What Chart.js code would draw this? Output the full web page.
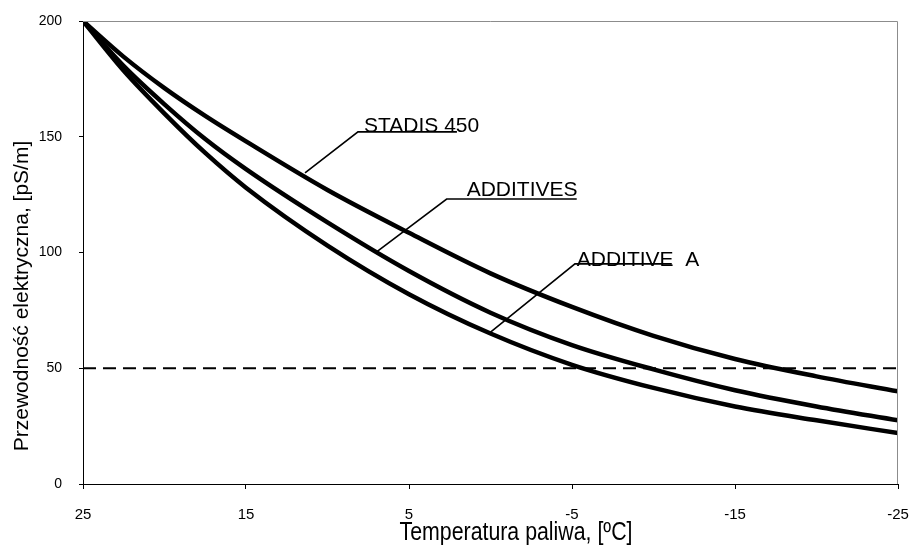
<!DOCTYPE html>
<html>
<head>
<meta charset="utf-8">
<script src="https://cdn.jsdelivr.net/npm/chart.js@4.4.1/dist/chart.umd.min.js"></script>
<style>
  html, body { margin:0; padding:0; background:#fff; }
  #wrap { width:910px; height:546px; }
</style>
</head>
<body>
<div id="wrap"><canvas id="chart" width="910" height="546"></canvas></div>
<script>
// --- Data ---
const temps     = [25, 22.5, 20, 17.5, 15, 10, 5, 0, -5, -10, -15, -20, -25];
const stadis450 = [200, 184.5, 171, 159, 148, 127, 108.5, 91, 76.5, 64, 54, 46.5, 40];
const additives = [200, 180.5, 164, 149, 136, 113, 92, 74, 60, 49.5, 40.5, 33.5, 27.5];
const additiveA = [200, 178.5, 160, 143, 128, 103, 82, 65, 51.5, 41.5, 33.5, 27.5, 22];
const limitX    = [25, -25];
const limitY    = [50, 50];
const xTicks    = [25, 15, 5, -5, -15, -25];
const yTicks    = [0, 50, 100, 150, 200];

// --- Curve labels (data units): text, leader tip, underline start/end ---
const labelText  = ['STADIS 450', 'ADDITIVES', 'ADDITIVE  A'];
const labelX     = [7.76, 1.46, -5.29];
const labelY     = [152.2, 124.5, 94.2];
const lineStartX = [8.13, 2.69, -5.18];
const lineStartY = [152.1, 123.1, 95.1];
const lineEndX   = [2.06, -5.29, -11.12];
const tipX       = [11.38, 7.09, 0.13];
const tipY       = [134.4, 99.7, 64.8];

const xTitle = 'Temperatura paliwa, [ºC]';
const yTitle = 'Przewodność elektryczna, [pS/m]';

// --- helpers ---
function curve(label, vals) {
  return {
    label: label,
    data: temps.map((t, i) => ({ x: t, y: vals[i] })),
    borderColor: '#000',
    borderWidth: 4.5,
    borderCapStyle: 'round',
    borderJoinStyle: 'round',
    pointRadius: 0,
    cubicInterpolationMode: 'monotone',
    fill: false
  };
}

function hasNarrow(ctx) {
  ctx.font = '20px "Liberation Sans Narrow", monospace';
  const a = ctx.measureText('Temperatura').width;
  ctx.font = '20px monospace';
  const b = ctx.measureText('Temperatura').width;
  return Math.abs(a - b) > 0.5;
}

function noPad(s) {
  s.paddingTop = 0; s.paddingBottom = 0;
  s.paddingLeft = 0; s.paddingRight = 0;
}

const extras = {
  id: 'extras',
  afterDatasetsDraw(chart) {
    const { ctx, chartArea: a, scales: { x, y } } = chart;
    ctx.save();
    // grey frame top + right
    ctx.strokeStyle = '#8c8c8c';
    ctx.lineWidth = 1;
    ctx.beginPath();
    ctx.moveTo(a.left, a.top + 0.5);
    ctx.lineTo(a.right - 0.5, a.top + 0.5);
    ctx.lineTo(a.right - 0.5, a.bottom);
    ctx.stroke();

    // leader lines, underlines, texts
    ctx.strokeStyle = '#000';
    ctx.fillStyle = '#000';
    ctx.lineWidth = 1.6;
    ctx.font = '21px "Liberation Sans", Arial, sans-serif';
    ctx.textAlign = 'left';
    ctx.textBaseline = 'alphabetic';
    labelText.forEach((t, i) => {
      ctx.beginPath();
      ctx.moveTo(x.getPixelForValue(tipX[i]), y.getPixelForValue(tipY[i]));
      ctx.lineTo(x.getPixelForValue(lineStartX[i]), y.getPixelForValue(lineStartY[i]));
      ctx.lineTo(x.getPixelForValue(lineEndX[i]), y.getPixelForValue(lineStartY[i]));
      ctx.stroke();
      ctx.fillText(t, x.getPixelForValue(labelX[i]), y.getPixelForValue(labelY[i]));
    });
    ctx.restore();
  },
  afterDraw(chart) {
    const { ctx } = chart;
    ctx.save();
    ctx.fillStyle = '#000';
    // y title
    ctx.translate(28, 296);
    ctx.rotate(-Math.PI / 2);
    ctx.font = '21px "Liberation Sans", Arial, sans-serif';
    ctx.textAlign = 'center';
    ctx.textBaseline = 'alphabetic';
    ctx.fillText(yTitle, 0, 0);
    ctx.restore();

    // x title (narrow face)
    ctx.save();
    ctx.fillStyle = '#000';
    ctx.textAlign = 'center';
    ctx.textBaseline = 'alphabetic';
    if (hasNarrow(ctx)) {
      ctx.font = '26px "Liberation Sans Narrow", sans-serif';
      ctx.fillText(xTitle, 516, 540);
    } else {
      ctx.translate(516, 540);
      ctx.scale(0.82, 1);
      ctx.font = '26px "Liberation Sans", Arial, sans-serif';
      ctx.fillText(xTitle, 0, 0);
    }
    ctx.restore();
  }
};

new Chart(document.getElementById('chart').getContext('2d'), {
  type: 'line',
  data: {
    datasets: [
      curve('STADIS 450', stadis450),
      curve('ADDITIVES', additives),
      curve('ADDITIVE A', additiveA),
      {
        label: 'limit',
        data: limitX.map((v, i) => ({ x: v, y: limitY[i] })),
        borderColor: '#000',
        borderWidth: 2,
        borderDash: [13, 7],
        pointRadius: 0,
        tension: 0,
        fill: false
      }
    ]
  },
  options: {
    responsive: false,
    animation: false,
    devicePixelRatio: 1,
    layout: { padding: { top: 21, right: 12, left: 0, bottom: 0 } },
    plugins: { legend: { display: false }, tooltip: { enabled: false } },
    scales: {
      x: {
        type: 'linear',
        reverse: true,
        min: -25, max: 25,
        afterBuildTicks: s => { s.ticks = xTicks.map(v => ({ value: v })); },
        afterFit: s => { s.height = 62; noPad(s); },
        ticks: {
          font: { family: '"Liberation Sans Narrow", "Liberation Sans", Arial', size: 15 },
          color: '#000', padding: 17, maxRotation: 0, autoSkip: false
        },
        grid: { drawOnChartArea: false, drawTicks: true, tickLength: 5, tickColor: '#000' },
        border: { color: '#000', width: 1 }
      },
      y: {
        min: 0, max: 200,
        afterBuildTicks: s => { s.ticks = yTicks.map(v => ({ value: v })); },
        afterFit: s => { s.width = 83; noPad(s); },
        ticks: {
          font: { family: '"Liberation Sans", Arial', size: 14 },
          color: '#000', padding: 17
        },
        grid: { drawOnChartArea: false, drawTicks: true, tickLength: 4, tickColor: '#000' },
        border: { color: '#000', width: 1 }
      }
    }
  },
  plugins: [extras]
});
</script>
</body>
</html>
